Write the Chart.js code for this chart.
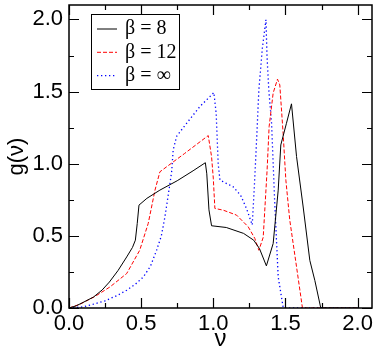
<!DOCTYPE html>
<html>
<head>
<meta charset="utf-8">
<script src="https://cdn.jsdelivr.net/npm/chart.js@4.4.1/dist/chart.umd.min.js"></script>
<style>
  body { margin: 0; background: #fff; }
  #wrap { width: 388px; height: 357px; }
</style>
</head>
<body>
<div id="wrap"><canvas id="gChart" width="388" height="357"></canvas></div>
<script>
// series labels
const seriesLabels = ["\u03b2 = 8", "\u03b2 = 12", "\u03b2 = \u221e"];

// beta = 8 (black, solid)
const nu8 = [0, 0.05, 0.1, 0.17, 0.23, 0.28, 0.34, 0.4, 0.44, 0.46, 0.473, 0.485, 0.54, 0.63, 0.75, 0.86, 0.945,
  0.955, 0.97, 0.988, 1.09, 1.21, 1.28, 1.32, 1.368, 1.415, 1.45, 1.468, 1.507, 1.542, 1.577, 1.623, 1.669, 1.704, 1.745, 2.0];
const g8 = [0, 0.015, 0.04, 0.076, 0.125, 0.18, 0.26, 0.354, 0.42, 0.47, 0.586, 0.713, 0.76, 0.817, 0.882, 0.951, 1.007,
  0.93, 0.68, 0.57, 0.558, 0.517, 0.47, 0.412, 0.292, 0.447, 0.817, 1.13, 1.28, 1.415, 1.05, 0.70, 0.33, 0.19, 0, 0];

// beta = 12 (red, dashed)
const nu12 = [0, 0.076, 0.18, 0.284, 0.4, 0.49, 0.549, 0.596, 0.63, 0.70, 0.80, 0.965, 0.988, 1.0, 1.011, 1.069, 1.161,
  1.242, 1.288, 1.316, 1.346, 1.373, 1.387, 1.415, 1.445, 1.461, 1.484, 1.503, 1.53, 1.577, 1.618, 2.0];
const g12 = [0, 0.026, 0.08, 0.146, 0.239, 0.40, 0.586, 0.817, 0.944, 0.996, 1.07, 1.195, 1.05, 0.9, 0.69, 0.678, 0.644,
  0.563, 0.482, 0.40, 0.49, 0.956, 1.257, 1.49, 1.586, 1.546, 1.21, 0.886, 0.61, 0.285, 0, 0];

// beta = infinity (blue, dotted)
const nuInf = [0, 0.1, 0.168, 0.25, 0.33, 0.40, 0.46, 0.515, 0.565, 0.607, 0.64, 0.665, 0.70, 0.712, 0.722, 0.746, 0.815,
  0.907, 1.004, 1.02, 1.034, 1.046, 1.09, 1.138, 1.19, 1.23, 1.27, 1.285, 1.30, 1.316, 1.34, 1.365, 1.372, 1.385, 1.404,
  1.427, 1.45, 1.485, 2.0];
const gInf = [0, 0.008, 0.026, 0.05, 0.085, 0.123, 0.165, 0.215, 0.29, 0.40, 0.50, 0.632, 0.864, 0.95, 1.095, 1.19, 1.28,
  1.396, 1.493, 1.35, 1.0, 0.887, 0.864, 0.84, 0.78, 0.69, 0.576, 0.85, 1.165, 1.51, 1.8, 1.998, 1.75, 1.51, 1.28,
  0.70, 0.215, 0, 0];

// axis ticks
const majorTicks = [0, 0.5, 1.0, 1.5, 2.0];
const minorTicks = [0.25, 0.75, 1.25, 1.75];

function toPoints(xs, ys) {
    return xs.map((x, i) => ({ x: x, y: ys[i] }));
}

// frame + inward ticks on all four sides
const frameTicks = {
    id: "frameTicks",
    afterDraw(chart) {
        const ctx = chart.ctx;
        const a = chart.chartArea;
        const xs = chart.scales.x, ys = chart.scales.y;
        ctx.save();
        ctx.strokeStyle = "#000";
        ctx.lineWidth = 1.5;
        ctx.strokeRect(a.left, a.top, a.right - a.left, a.bottom - a.top);
        ctx.lineWidth = 1.2;
        ctx.beginPath();
        const tick = (v, len) => {
            const px = Math.round(xs.getPixelForValue(v)) + 0.5;
            ctx.moveTo(px, a.bottom); ctx.lineTo(px, a.bottom - len);
            ctx.moveTo(px, a.top); ctx.lineTo(px, a.top + len);
            const py = Math.round(ys.getPixelForValue(v)) + 0.5;
            ctx.moveTo(a.left, py); ctx.lineTo(a.left + len, py);
            ctx.moveTo(a.right, py); ctx.lineTo(a.right - len, py);
        };
        majorTicks.forEach(v => tick(v, 10));
        minorTicks.forEach(v => tick(v, 5));
        ctx.stroke();
        ctx.restore();
    }
};

// legend box in upper left of the plot
const boxLegend = {
    id: "boxLegend",
    afterDatasetsDraw(chart) {
        const ctx = chart.ctx;
        const bx = 91.5, by = 14.5, bw = 88, bh = 75;
        ctx.save();
        ctx.fillStyle = "#fff";
        ctx.fillRect(bx, by, bw, bh);
        ctx.strokeStyle = "#000";
        ctx.lineWidth = 1;
        ctx.strokeRect(bx, by, bw, bh);
        chart.data.datasets.forEach((ds, i) => {
            const y = 29 + i * 23.3;
            ctx.strokeStyle = ds.borderColor;
            ctx.lineWidth = ds.borderWidth;
            ctx.setLineDash(ds.borderDash || []);
            ctx.beginPath();
            ctx.moveTo(97, y);
            ctx.lineTo(117, y);
            ctx.stroke();
            ctx.setLineDash([]);
            ctx.fillStyle = "#000";
            ctx.font = "20px 'Liberation Serif'";
            ctx.textBaseline = "middle";
            ctx.textAlign = "left";
            ctx.fillText(ds.label, 125, y);
        });
        ctx.restore();
    }
};

const tickFont = { family: "'Liberation Sans'", size: 22 };

new Chart(document.getElementById("gChart").getContext("2d"), {
    type: "line",
    data: {
        datasets: [
            { label: seriesLabels[0], data: toPoints(nu8, g8), borderColor: "#000000", borderWidth: 1 },
            { label: seriesLabels[1], data: toPoints(nu12, g12), borderColor: "#ff0000", borderWidth: 1, borderDash: [4, 2] },
            { label: seriesLabels[2], data: toPoints(nuInf, gInf), borderColor: "#0000ff", borderWidth: 1.3, borderDash: [1.3, 2.7] }
        ]
    },
    options: {
        responsive: false,
        animation: false,
        devicePixelRatio: 1,
        layout: { padding: { left: 0, top: 5, right: 16, bottom: 0 } },
        elements: { point: { radius: 0 }, line: { tension: 0, fill: false } },
        plugins: { legend: { display: false }, tooltip: { enabled: false } },
        scales: {
            x: {
                type: "linear",
                min: 0,
                max: 2.1,
                grid: { display: false, drawTicks: false },
                border: { display: false },
                ticks: {
                    stepSize: 0.5,
                    includeBounds: false,
                    maxRotation: 0,
                    padding: 3,
                    color: "#000",
                    font: tickFont,
                    callback: v => v.toFixed(1)
                },
                title: {
                    display: true,
                    text: "\u03bd",
                    color: "#000",
                    font: { family: "'Liberation Sans'", size: 24 },
                    padding: { top: 0, bottom: 3 }
                },
                afterFit: s => { s.height = 49; s.paddingLeft = 0; s.paddingRight = 0; }
            },
            y: {
                min: 0,
                max: 2.1,
                grid: { display: false, drawTicks: false },
                border: { display: false },
                ticks: {
                    stepSize: 0.5,
                    includeBounds: false,
                    padding: 6,
                    color: "#000",
                    font: tickFont,
                    callback: v => v.toFixed(1)
                },
                title: {
                    display: true,
                    text: "g(\u03bd)",
                    color: "#000",
                    font: { family: "'Liberation Sans'", size: 22 },
                    padding: { top: 4, bottom: 0 }
                },
                afterFit: s => { s.width = 69; s.paddingTop = 0; s.paddingBottom = 0; }
            }
        }
    },
    plugins: [frameTicks, boxLegend]
});
</script>
</body>
</html>
